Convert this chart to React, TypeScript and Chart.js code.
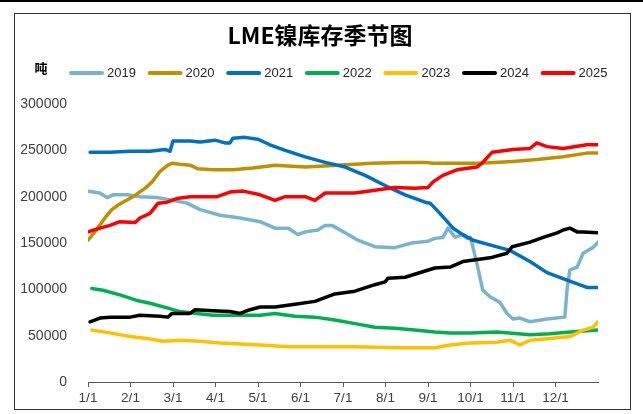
import { useEffect, useRef } from 'react';
import { Chart, registerables } from 'chart.js';
Chart.register(...registerables);

const monthLabels = ['1/1', '2/1', '3/1', '4/1', '5/1', '6/1', '7/1', '8/1', '9/1', '10/1', '11/1', '12/1'];
const years = ['2019', '2020', '2021', '2022', '2023', '2024', '2025'];
const colors = ['#78B4CD', '#BF9000', '#0070C0', '#00B050', '#FFC000', '#000000', '#FF0000'];

// x positions in months since 1/1, values in tonnes
const x2019 = [0, 0.28, 0.45, 0.59, 0.92, 1.22, 1.62, 2.0, 2.33, 2.64, 3.11, 3.58, 4.05, 4.4, 4.71, 4.94, 5.11, 5.41, 5.58, 5.74, 6.05, 6.35, 6.75, 7.22, 7.62, 8.0, 8.16, 8.35, 8.47, 8.64, 8.8, 8.92, 9.0, 9.15, 9.29, 9.46, 9.69, 9.86, 10.0, 10.16, 10.4, 10.8, 11.22, 11.27, 11.34, 11.51, 11.65, 11.88, 12.0];
const v2019 = [206000, 204000, 199000, 202000, 202000, 200000, 199000, 196000, 193000, 186000, 180000, 177000, 173000, 166000, 166000, 159000, 162000, 164000, 169000, 169000, 161000, 153000, 146000, 145000, 150000, 152000, 155000, 156000, 166000, 156000, 159000, 155000, 156000, 128000, 99000, 92000, 86000, 74000, 68000, 69000, 65000, 68000, 70000, 99000, 121000, 124000, 139000, 145000, 151000];

const x2020 = [0, 0.16, 0.4, 0.56, 0.71, 0.82, 1.06, 1.34, 1.51, 1.69, 1.88, 1.98, 2.16, 2.4, 2.59, 2.94, 3.41, 3.88, 4.4, 5.11, 5.88, 6.68, 7.39, 7.93, 8.12, 8.52, 9.22, 10.0, 10.56, 11.18, 11.74, 12.0];
const v2020 = [153000, 162000, 177000, 186000, 191000, 194000, 200000, 209000, 216000, 227000, 234000, 236000, 235000, 234000, 230000, 229000, 229000, 231000, 234000, 232000, 234000, 236000, 237000, 237000, 236000, 236000, 236000, 238000, 240000, 243000, 247000, 247000];

const x2021 = [0.05, 0.52, 0.99, 1.46, 1.81, 1.93, 2.0, 2.4, 2.64, 2.99, 3.22, 3.34, 3.41, 3.69, 4.0, 4.28, 4.64, 5.11, 5.58, 6.05, 6.52, 6.99, 7.46, 7.93, 8.05, 8.28, 8.59, 8.82, 9.06, 9.69, 9.93, 10.4, 10.8, 11.27, 11.74, 12.0];
const v2021 = [248000, 248000, 249000, 249000, 251000, 249000, 260000, 260000, 259000, 261000, 258000, 258000, 263000, 264000, 262000, 256000, 250000, 243000, 237000, 232000, 223000, 212000, 202000, 194000, 193000, 182000, 166000, 159000, 153000, 145000, 142000, 130000, 118000, 110000, 102000, 102000];

const x2022 = [0.09, 0.35, 0.75, 1.15, 1.46, 1.86, 2.16, 2.56, 2.94, 3.34, 4.05, 4.4, 4.87, 5.34, 5.81, 6.28, 6.75, 7.22, 7.69, 8.16, 8.52, 8.99, 9.62, 10.4, 10.87, 11.34, 12.0];
const v2022 = [101000, 99000, 94000, 88000, 85000, 80000, 76000, 74000, 72000, 72000, 72000, 74000, 71000, 70000, 67000, 63000, 59000, 58000, 56000, 54000, 53000, 53000, 54000, 51000, 52000, 54000, 56000];

const x2023 = [0.09, 0.52, 0.99, 1.39, 1.76, 2.16, 2.64, 3.11, 3.58, 4.05, 4.71, 5.51, 6.28, 7.22, 8.16, 8.52, 8.99, 9.62, 9.93, 10.16, 10.4, 10.87, 11.34, 11.65, 11.88, 12.0];
const v2023 = [56000, 53000, 49000, 47000, 44000, 45000, 44000, 42000, 41000, 40000, 38000, 38000, 38000, 37000, 37000, 40000, 42000, 43000, 45000, 40000, 45000, 47000, 49000, 56000, 59000, 65000];

const x2024 = [0.05, 0.28, 0.52, 0.99, 1.22, 1.69, 1.88, 1.98, 2.4, 2.52, 2.94, 3.34, 3.58, 3.81, 4.05, 4.4, 4.87, 5.34, 5.81, 6.28, 6.75, 6.99, 7.06, 7.46, 8.16, 8.52, 8.82, 9.46, 9.86, 9.98, 10.4, 10.71, 11.04, 11.18, 11.34, 11.51, 11.65, 12.0];
const v2024 = [65000, 69000, 70000, 70000, 72000, 71000, 70000, 74000, 74000, 78000, 77000, 76000, 74000, 78000, 81000, 81000, 84000, 87000, 95000, 98000, 105000, 108000, 112000, 113000, 123000, 124000, 130000, 134000, 139000, 146000, 151000, 156000, 161000, 164000, 166000, 162000, 162000, 161000];

const x2025 = [0, 0.28, 0.52, 0.75, 1.11, 1.22, 1.46, 1.65, 1.86, 2.09, 2.4, 2.8, 3.04, 3.34, 3.65, 4.05, 4.4, 4.64, 5.11, 5.34, 5.58, 6.28, 6.75, 7.22, 7.69, 8.0, 8.12, 8.35, 8.68, 9.15, 9.29, 9.51, 10.0, 10.4, 10.56, 10.8, 11.18, 11.74, 12.0];
const v2025 = [162000, 166000, 169000, 173000, 172000, 177000, 182000, 193000, 194000, 198000, 200000, 200000, 200000, 205000, 206000, 202000, 196000, 200000, 200000, 196000, 204000, 204000, 207000, 210000, 209000, 210000, 216000, 223000, 229000, 232000, 237000, 248000, 251000, 252000, 258000, 254000, 252000, 256000, 256000];

const yMin = 0;
const yMax = 300000;
const yStep = 50000;

export default function App() {
  const ref = useRef<HTMLCanvasElement>(null);
  useEffect(() => {
    if (!ref.current) return;
    const xs = [x2019, x2020, x2021, x2022, x2023, x2024, x2025];
    const vs = [v2019, v2020, v2021, v2022, v2023, v2024, v2025];
    const datasets = years.map((label, i) => ({
      label,
      data: xs[i].map((x, j) => ({ x, y: vs[i][j] })),
      borderColor: colors[i],
      backgroundColor: colors[i],
      borderWidth: 3.5,
      pointRadius: 0,
      tension: 0,
      borderJoinStyle: 'round' as const,
      borderCapStyle: 'round' as const,
      order: years.length - i,
    }));
    const overlay = {
      id: 'overlay',
      afterDraw(chart: any) {
        const ctx = chart.ctx as CanvasRenderingContext2D;
        ctx.save();
        ctx.fillStyle = '#000';
        ctx.textAlign = 'center';
        ctx.textBaseline = 'middle';
        ctx.font = 'bold 23px "Noto Sans CJK SC"';
        ctx.fillText('LME镍库存季节图', 320, 35);
        ctx.font = 'bold 13px "Noto Sans CJK SC"';
        ctx.fillText('吨', 41, 68);
        for (let i = 0; i < years.length; i++) {
          const lx = 69 + i * 78.6;
          ctx.strokeStyle = colors[i];
          ctx.lineWidth = 4;
          ctx.lineCap = 'round';
          ctx.beginPath();
          ctx.moveTo(lx + 2, 73);
          ctx.lineTo(lx + 33, 73);
          ctx.stroke();
          ctx.fillStyle = '#262626';
          ctx.textAlign = 'left';
          ctx.font = '13px "Liberation Sans"';
          ctx.fillText(years[i], lx + 38, 73);
        }
        ctx.restore();
      },
    };
    const chart = new Chart(ref.current, {
      type: 'line',
      data: { datasets },
      options: {
        animation: false,
        responsive: false,
        devicePixelRatio: 1,
        layout: { padding: { left: 0, right: 45, top: 104, bottom: 0 } },
        plugins: { legend: { display: false }, title: { display: false }, tooltip: { enabled: false } },
        scales: {
          x: {
            type: 'linear',
            min: 0,
            max: 12,
            afterFit(s: any) { s.height = 32; },
            ticks: {
              stepSize: 1,
              autoSkip: false,
              maxRotation: 0,
              padding: 3,
              color: '#404040',
              font: { family: 'Liberation Sans', size: 13.5 },
              callback: (_v: any, idx: number) => monthLabels[idx] ?? '',
            },
            grid: {
              drawOnChartArea: false,
              drawTicks: true,
              tickLength: 5,
              color: (c: any) => (c.tick && c.tick.value === 12 ? 'rgba(0,0,0,0)' : '#595959'),
            },
            border: { display: true, color: '#595959', width: 1 },
          },
          y: {
            min: yMin,
            max: yMax,
            afterFit(s: any) { s.width = 88; },
            ticks: {
              stepSize: yStep,
              padding: 21,
              color: '#404040',
              font: { family: 'Liberation Sans', size: 14 },
              callback: (v: any) => String(v),
            },
            grid: { display: false, drawTicks: false },
            border: { display: false },
          },
        },
      },
      plugins: [overlay],
    } as any);
    return () => chart.destroy();
  }, []);
  return (
    <div style={{ position: 'fixed', left: 0, top: 0, width: 643, height: 414, background: '#fff', overflow: 'hidden' }}>
      <div style={{ position: 'absolute', left: 0, top: 0, width: 643, height: 2, background: '#000' }} />
      <div style={{ position: 'absolute', left: 14, top: 13, width: 615, height: 395, border: '1.5px solid #333' }} />
      <canvas ref={ref} width={643} height={414} style={{ position: 'absolute', left: 0, top: 0, width: 643, height: 414 }} />
    </div>
  );
}
